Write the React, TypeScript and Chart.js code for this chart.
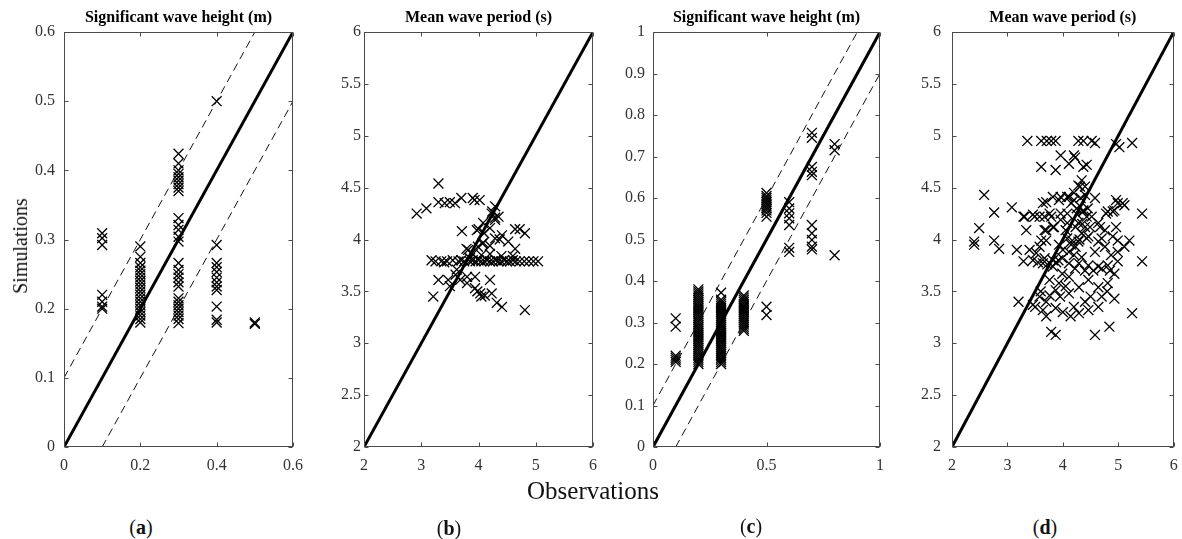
import React, { useEffect, useRef } from 'react';
import { Chart, registerables } from 'chart.js';

Chart.register(...registerables);

const SERIF = "'Liberation Serif', 'Times New Roman', serif";

// ---------- tick labels ----------
const xTicksA = [0, 0.2, 0.4, 0.6];
const yTicksA = [0, 0.1, 0.2, 0.3, 0.4, 0.5, 0.6];
const xTicksB = [2, 3, 4, 5, 6];
const yTicksB = [2, 2.5, 3, 3.5, 4, 4.5, 5, 5.5, 6];
const xTicksC = [0, 0.5, 1];
const yTicksC = [0, 0.1, 0.2, 0.3, 0.4, 0.5, 0.6, 0.7, 0.8, 0.9, 1];
const xTicksD = [2, 3, 4, 5, 6];
const yTicksD = [2, 2.5, 3, 3.5, 4, 4.5, 5, 5.5, 6];

const titles = [
  'Significant wave height (m)',
  'Mean wave period (s)',
  'Significant wave height (m)',
  'Mean wave period (s)',
];
const panelLabels = ['a', 'b', 'c', 'd'];

// ---------- reference lines ----------
const diagA: [number, number][] = [[0, 0], [0.6, 0.6]];
const upperA: [number, number][] = [[0, 0.1], [0.5, 0.6]];
const lowerA: [number, number][] = [[0.1, 0], [0.6, 0.5]];
const diagB: [number, number][] = [[2, 2], [6, 6]];
const diagC: [number, number][] = [[0, 0], [1, 1]];
const upperC: [number, number][] = [[0, 0.1], [0.9, 1]];
const lowerC: [number, number][] = [[0.1, 0], [1, 0.9]];
const diagD: [number, number][] = [[2, 2], [6, 6]];

// ---------- panel (a): observations / simulations ----------
const pointsA: [number, number][] = [
  [0.1, 0.309], [0.1, 0.302], [0.1, 0.292], [0.1, 0.22], [0.1, 0.21], [0.1, 0.203], [0.1, 0.2],
  [0.2, 0.29], [0.2, 0.275], [0.2, 0.266], [0.2, 0.26], [0.2, 0.255], [0.2, 0.25], [0.2, 0.245],
  [0.2, 0.24], [0.2, 0.235], [0.2, 0.23], [0.2, 0.225], [0.2, 0.22], [0.2, 0.215], [0.2, 0.21],
  [0.2, 0.205], [0.2, 0.2], [0.2, 0.195], [0.2, 0.19], [0.2, 0.185], [0.2, 0.18],
  [0.3, 0.424], [0.3, 0.41], [0.3, 0.4], [0.3, 0.395], [0.3, 0.39], [0.3, 0.385], [0.3, 0.38],
  [0.3, 0.375], [0.3, 0.37], [0.3, 0.331], [0.3, 0.321], [0.3, 0.314], [0.3, 0.304], [0.3, 0.297],
  [0.3, 0.266], [0.3, 0.256], [0.3, 0.25], [0.3, 0.245], [0.3, 0.238], [0.3, 0.232], [0.3, 0.215],
  [0.3, 0.21], [0.3, 0.205], [0.3, 0.2], [0.3, 0.195], [0.3, 0.19], [0.3, 0.185], [0.3, 0.179],
  [0.4, 0.292], [0.4, 0.266], [0.4, 0.26], [0.4, 0.253], [0.4, 0.245], [0.4, 0.238], [0.4, 0.232],
  [0.4, 0.227], [0.4, 0.203], [0.4, 0.184], [0.4, 0.18], [0.4, 0.5],
  [0.5, 0.18], [0.5, 0.178],
];

// ---------- panel (b) ----------
const pointsB: [number, number][] = [
  [2.92, 4.25], [3.09, 4.3], [3.3, 4.54], [3.3, 4.36], [3.41, 4.35], [3.5, 4.36], [3.59, 4.35],
  [3.7, 4.4], [3.9, 4.4], [3.93, 4.38], [4.02, 4.38], [4.29, 4.32], [4.24, 4.27], [4.35, 4.22],
  [4.23, 4.25], [4.29, 4.19], [3.71, 4.08], [3.97, 4.09], [4.08, 4.16], [4.2, 4.11], [4.29, 4.21],
  [4.41, 4.04], [4.52, 3.98], [4.64, 4.1], [4.72, 4.1], [4.81, 4.06], [4.64, 3.91], [4.0, 4.1],
  [4.1, 4.06], [4.29, 4.01], [4.37, 4.0], [4.08, 3.97], [4.2, 3.94], [3.79, 3.91], [3.82, 3.9],
  [3.99, 3.93], [4.07, 3.96], [3.9, 3.86], [4.05, 3.85], [4.2, 3.86], [4.4, 3.84], [4.6, 3.84],
  [3.85, 3.82],
  [3.18, 3.8], [3.25, 3.79], [3.35, 3.79], [3.4, 3.78], [3.45, 3.79], [3.55, 3.8], [3.65, 3.79],
  [3.7, 3.8], [3.75, 3.79], [3.85, 3.79], [3.9, 3.8], [3.95, 3.79], [4.0, 3.8], [4.05, 3.79],
  [4.1, 3.79], [4.15, 3.8], [4.2, 3.79], [4.25, 3.79], [4.3, 3.8], [4.35, 3.79], [4.4, 3.79],
  [4.45, 3.8], [4.5, 3.79], [4.55, 3.79], [4.6, 3.8], [4.65, 3.79], [4.72, 3.79], [4.8, 3.79],
  [4.88, 3.79], [4.96, 3.79], [5.04, 3.79],
  [3.3, 3.61], [3.21, 3.45], [3.47, 3.61], [3.62, 3.71], [3.68, 3.61], [3.8, 3.64], [3.94, 3.64],
  [4.2, 3.61], [3.94, 3.53], [4.03, 3.48], [4.11, 3.46], [4.23, 3.48], [4.41, 3.35], [4.32, 3.39],
  [4.81, 3.32], [3.5, 3.55], [3.8, 3.58], [3.98, 3.5], [4.05, 3.45], [3.6, 3.66],
];

// ---------- panel (c) ----------
const pointsC: [number, number][] = [
  [0.1, 0.31], [0.1, 0.29], [0.1, 0.22], [0.1, 0.215], [0.1, 0.21], [0.1, 0.205],
  [0.2, 0.38], [0.2, 0.375], [0.2, 0.37], [0.2, 0.365], [0.2, 0.36], [0.2, 0.355], [0.2, 0.35],
  [0.2, 0.345], [0.2, 0.34], [0.2, 0.335], [0.2, 0.33], [0.2, 0.325], [0.2, 0.32], [0.2, 0.315],
  [0.2, 0.31], [0.2, 0.305], [0.2, 0.3], [0.2, 0.295], [0.2, 0.29], [0.2, 0.285], [0.2, 0.28],
  [0.2, 0.275], [0.2, 0.27], [0.2, 0.265], [0.2, 0.26], [0.2, 0.255], [0.2, 0.25], [0.2, 0.245],
  [0.2, 0.24], [0.2, 0.235], [0.2, 0.23], [0.2, 0.225], [0.2, 0.22], [0.2, 0.215], [0.2, 0.21],
  [0.2, 0.205], [0.2, 0.2],
  [0.3, 0.372], [0.3, 0.355], [0.3, 0.35], [0.3, 0.345], [0.3, 0.34], [0.3, 0.335], [0.3, 0.33],
  [0.3, 0.325], [0.3, 0.32], [0.3, 0.315], [0.3, 0.31], [0.3, 0.305], [0.3, 0.3], [0.3, 0.295],
  [0.3, 0.29], [0.3, 0.285], [0.3, 0.28], [0.3, 0.275], [0.3, 0.27], [0.3, 0.265], [0.3, 0.26],
  [0.3, 0.255], [0.3, 0.25], [0.3, 0.245], [0.3, 0.24], [0.3, 0.235], [0.3, 0.23], [0.3, 0.225],
  [0.3, 0.22], [0.3, 0.215], [0.3, 0.21], [0.3, 0.205], [0.3, 0.2],
  [0.4, 0.365], [0.4, 0.36], [0.4, 0.355], [0.4, 0.35], [0.4, 0.345], [0.4, 0.34], [0.4, 0.335],
  [0.4, 0.33], [0.4, 0.325], [0.4, 0.32], [0.4, 0.315], [0.4, 0.31], [0.4, 0.305], [0.4, 0.3],
  [0.4, 0.295], [0.4, 0.29], [0.4, 0.285], [0.4, 0.28],
  [0.5, 0.338], [0.5, 0.318], [0.5, 0.612], [0.5, 0.605], [0.5, 0.6], [0.5, 0.595], [0.5, 0.59],
  [0.5, 0.585], [0.5, 0.58], [0.5, 0.575], [0.5, 0.57], [0.5, 0.564], [0.5, 0.555],
  [0.6, 0.59], [0.6, 0.575], [0.6, 0.563], [0.6, 0.551], [0.6, 0.535], [0.6, 0.48], [0.6, 0.47],
  [0.7, 0.757], [0.7, 0.745], [0.7, 0.675], [0.7, 0.663], [0.7, 0.655], [0.7, 0.535], [0.7, 0.515],
  [0.7, 0.499], [0.7, 0.483], [0.7, 0.476],
  [0.8, 0.73], [0.8, 0.715], [0.8, 0.462],
];

// ---------- panel (d) ----------
const pointsD: [number, number][] = [
  [3.36, 4.95], [3.61, 4.95], [3.71, 4.95], [3.79, 4.95], [3.87, 4.95], [4.28, 4.95], [4.37, 4.95],
  [4.52, 4.95], [4.58, 4.93], [4.96, 4.92], [5.25, 4.93], [5.02, 4.89],
  [3.96, 4.81], [4.2, 4.81], [4.11, 4.73], [4.43, 4.72], [3.61, 4.7], [3.87, 4.67], [4.37, 4.7],
  [4.22, 4.79], [4.34, 4.57], [4.28, 4.52], [4.4, 4.51], [2.58, 4.43], [3.7, 4.36], [3.96, 4.41],
  [4.08, 4.41], [4.2, 4.38], [4.58, 4.4], [4.96, 4.38], [5.08, 4.35], [5.43, 4.25], [3.08, 4.31],
  [2.76, 4.26], [3.31, 4.22], [3.49, 4.22], [3.67, 4.22], [3.79, 4.22], [3.96, 4.25], [4.37, 4.28],
  [4.43, 4.22], [4.78, 4.25], [4.9, 4.27], [2.49, 4.11], [3.34, 4.09], [3.67, 4.09], [3.84, 4.12],
  [4.08, 4.16], [4.28, 4.16], [4.49, 4.12], [4.67, 4.12], [4.96, 4.12], [2.4, 3.98], [2.4, 3.95],
  [2.76, 3.99], [3.61, 3.99], [4.08, 4.01], [4.28, 3.98], [4.43, 4.01], [4.7, 4.01], [4.99, 3.99],
  [5.2, 3.99], [2.85, 3.91], [3.17, 3.9], [3.29, 3.79], [3.46, 3.8], [3.64, 3.77], [3.82, 3.8],
  [3.99, 3.82], [4.11, 3.88], [4.23, 3.93], [4.29, 3.77], [4.46, 3.75], [4.64, 3.74], [4.81, 3.75],
  [4.99, 3.79], [5.43, 3.79], [4.93, 3.67], [4.81, 3.58], [4.64, 3.54], [4.46, 3.61], [4.29, 3.54],
  [4.11, 3.48], [3.87, 3.51], [3.76, 3.46], [3.58, 3.45], [3.46, 3.37], [3.2, 3.4], [3.64, 3.32],
  [3.87, 3.34], [4.14, 3.26], [4.29, 3.29], [4.46, 3.32], [4.64, 3.35], [4.93, 3.43], [5.25, 3.29],
  [4.84, 3.16], [4.58, 3.08], [3.79, 3.11], [3.87, 3.08], [3.7, 3.26], [3.4, 3.9], [3.58, 3.93],
  [3.7, 3.99], [3.52, 3.87], [3.93, 3.95], [4.17, 3.99], [4.34, 4.06], [4.46, 4.03], [4.64, 3.98],
  [4.76, 3.93], [4.99, 3.88], [5.11, 3.93], [4.87, 3.85], [4.58, 3.88], [4.34, 3.83], [4.11, 3.77],
  [3.99, 3.67], [3.76, 3.61], [3.93, 3.58], [4.11, 3.64], [3.82, 3.74], [3.67, 3.82], [3.96, 4.19],
  [4.08, 4.25], [4.26, 4.24], [4.37, 4.27], [4.52, 4.22], [4.64, 4.16], [4.81, 4.27], [4.93, 4.28],
  [4.99, 4.35], [5.11, 4.33], [4.76, 4.09], [4.9, 4.03], [4.4, 4.12], [4.23, 4.12], [4.05, 4.09],
  [3.82, 4.12], [3.7, 4.09], [3.58, 4.22], [3.76, 4.25], [3.93, 4.38], [4.11, 4.41], [4.31, 4.51],
  [4.4, 4.43], [3.46, 4.24], [3.29, 4.22], [3.82, 4.41], [3.64, 4.35], [3.88, 3.78], [3.92, 3.8],
  [4.2, 3.85], [4.22, 3.72], [4.4, 3.7], [4.55, 3.7], [4.7, 3.72], [4.85, 3.7], [3.55, 3.78],
  [3.72, 3.76], [4.0, 3.9], [4.15, 3.95], [4.3, 4.0], [4.35, 4.15], [4.25, 4.3], [4.2, 4.45],
  [4.32, 4.4], [4.45, 4.3], [4.15, 4.35], [3.6, 3.5], [3.7, 3.4], [3.95, 3.45], [4.05, 3.55],
  [4.5, 3.45], [4.7, 3.45], [4.8, 3.5], [4.4, 3.4], [3.5, 3.35], [4.0, 3.3], [4.2, 3.35],
];

// ---------- layout (pixels) ----------
const CANVAS_H = 480;
const PLOT_TOP = 32;
const X_AXIS_H = 33;

type PanelCfg = {
  left: number;
  width: number;
  yAxisW: number;
  rightPad: number;
  yPad: number;
  title: string;
  xRange: [number, number];
  yRange: [number, number];
  xTicks: number[];
  yTicks: number[];
  points: [number, number][];
  diag: [number, number][];
  dashed: [number, number][][];
};

const panels: PanelCfg[] = [
  { left: 0, width: 320, yAxisW: 64, rightPad: 27, yPad: 9, title: titles[0], xRange: [0, 0.6], yRange: [0, 0.6], xTicks: xTicksA, yTicks: yTicksA, points: pointsA, diag: diagA, dashed: [upperA, lowerA] },
  { left: 320, width: 300, yAxisW: 44, rightPad: 27, yPad: 3, title: titles[1], xRange: [2, 6], yRange: [2, 6], xTicks: xTicksB, yTicks: yTicksB, points: pointsB, diag: diagB, dashed: [] },
  { left: 620, width: 285, yAxisW: 33, rightPad: 25, yPad: 8, title: titles[2], xRange: [0, 1], yRange: [0, 1], xTicks: xTicksC, yTicks: yTicksC, points: pointsC, diag: diagC, dashed: [upperC, lowerC] },
  { left: 905, width: 277, yAxisW: 47, rightPad: 3, yPad: 11, title: titles[3], xRange: [2, 6], yRange: [2, 6], xTicks: xTicksD, yTicks: yTicksD, points: pointsD, diag: diagD, dashed: [] },
];

const fmt = (v: number) => String(Math.round(v * 100) / 100);

const boxPlugin = {
  id: 'matlabBox',
  afterDraw(chart: any) {
    const { ctx, chartArea } = chart;
    const { left, right, top, bottom } = chartArea;
    const xs = chart.scales.x;
    const ys = chart.scales.y;
    const cfg: PanelCfg = chart.options.plugins.matlabBox.cfg;
    ctx.save();
    ctx.strokeStyle = '#4a4a4a';
    ctx.lineWidth = 1;
    const L = Math.round(left) + 0.5;
    const R = Math.round(right) - 0.5;
    const T = Math.round(top) + 0.5;
    const B = Math.round(bottom) - 0.5;
    ctx.strokeRect(L, T, R - L, B - T);
    ctx.beginPath();
    const tl = 4;
    cfg.xTicks.forEach((v) => {
      const p = Math.round(xs.getPixelForValue(v)) + 0.5;
      ctx.moveTo(p, B); ctx.lineTo(p, B - tl);
      ctx.moveTo(p, T); ctx.lineTo(p, T + tl);
    });
    cfg.yTicks.forEach((v) => {
      const p = Math.round(ys.getPixelForValue(v)) + 0.5;
      ctx.moveTo(L, p); ctx.lineTo(L + tl, p);
      ctx.moveTo(R, p); ctx.lineTo(R - tl, p);
    });
    ctx.stroke();
    // title
    ctx.fillStyle = '#000';
    ctx.font = `bold 16px ${SERIF}`;
    ctx.textAlign = 'center';
    ctx.textBaseline = 'middle';
    ctx.fillText(cfg.title, (left + right) / 2, 18);
    ctx.restore();
  },
};

const toXY = (pts: [number, number][]) => pts.map(([x, y]) => ({ x, y }));

function buildConfig(cfg: PanelCfg): any {
  const tickFont = { family: SERIF, size: 16 };
  const datasets: any[] = [
    {
      data: toXY(cfg.diag),
      showLine: true,
      borderColor: '#000',
      borderWidth: 3,
      pointRadius: 0,
      fill: false,
    },
    ...cfg.dashed.map((d) => ({
      data: toXY(d),
      showLine: true,
      borderColor: '#111',
      borderWidth: 1,
      borderDash: [8, 5],
      pointRadius: 0,
      fill: false,
    })),
    {
      data: toXY(cfg.points),
      showLine: false,
      pointStyle: 'crossRot',
      pointRadius: 7,
      borderColor: '#000',
      backgroundColor: 'rgba(0,0,0,0)',
      borderWidth: 1.3,
    },
  ];
  return {
    type: 'scatter',
    data: { datasets },
    plugins: [boxPlugin],
    options: {
      responsive: false,
      animation: false,
      events: [],
      layout: { padding: { top: PLOT_TOP, left: 0, right: cfg.rightPad, bottom: 0 } },
      plugins: {
        legend: { display: false },
        tooltip: { enabled: false },
        title: { display: false },
        matlabBox: { cfg },
      },
      scales: {
        x: {
          type: 'linear',
          min: cfg.xRange[0],
          max: cfg.xRange[1],
          afterBuildTicks: (s: any) => { s.ticks = cfg.xTicks.map((v) => ({ value: v })); },
          afterFit: (s: any) => { s.height = X_AXIS_H; s.paddingLeft = 0; s.paddingRight = 0; },
          grid: { display: false, drawTicks: false },
          border: { display: false },
          ticks: { font: tickFont, color: '#333', padding: 9, maxRotation: 0, autoSkip: false, callback: (v: number) => fmt(v) },
        },
        y: {
          type: 'linear',
          min: cfg.yRange[0],
          max: cfg.yRange[1],
          afterBuildTicks: (s: any) => { s.ticks = cfg.yTicks.map((v) => ({ value: v })); },
          afterFit: (s: any) => { s.width = cfg.yAxisW; s.paddingTop = 0; s.paddingBottom = 0; },
          grid: { display: false, drawTicks: false },
          border: { display: false },
          ticks: { font: tickFont, color: '#333', padding: cfg.yPad, autoSkip: false, callback: (v: number) => fmt(v) },
        },
      },
    },
  };
}

function Panel({ cfg }: { cfg: PanelCfg }) {
  const ref = useRef<HTMLCanvasElement>(null);
  useEffect(() => {
    if (!ref.current) return;
    const chart = new Chart(ref.current, buildConfig(cfg));
    return () => chart.destroy();
  }, [cfg]);
  return (
    <canvas
      ref={ref}
      width={cfg.width}
      height={CANVAS_H}
      style={{ position: 'absolute', left: cfg.left, top: 0, width: cfg.width, height: CANVAS_H }}
    />
  );
}

const labelPos: [number, number][] = [[141, 527], [449, 528], [751, 526], [1045, 527]];

export default function App() {
  return (
    <div
      style={{
        position: 'absolute', left: 0, top: 0, width: 1182, height: 539,
        overflow: 'hidden', background: '#fff', fontFamily: SERIF, color: '#111',
      }}
    >
      {panels.map((p, i) => <Panel key={i} cfg={p} />)}
      <div
        style={{
          position: 'absolute', left: 20, top: 246, fontSize: 20, whiteSpace: 'nowrap',
          transform: 'translate(-50%, -50%) rotate(-90deg)', lineHeight: 1,
        }}
      >
        Simulations
      </div>
      <div
        style={{
          position: 'absolute', left: 593, top: 490, fontSize: 25, whiteSpace: 'nowrap',
          transform: 'translate(-50%, -50%)', lineHeight: 1,
        }}
      >
        Observations
      </div>
      {panelLabels.map((l, i) => (
        <div
          key={l}
          style={{
            position: 'absolute', left: labelPos[i][0], top: labelPos[i][1], fontSize: 20,
            whiteSpace: 'nowrap', transform: 'translate(-50%, -50%)', lineHeight: 1,
          }}
        >
          (<b>{l}</b>)
        </div>
      ))}
    </div>
  );
}
